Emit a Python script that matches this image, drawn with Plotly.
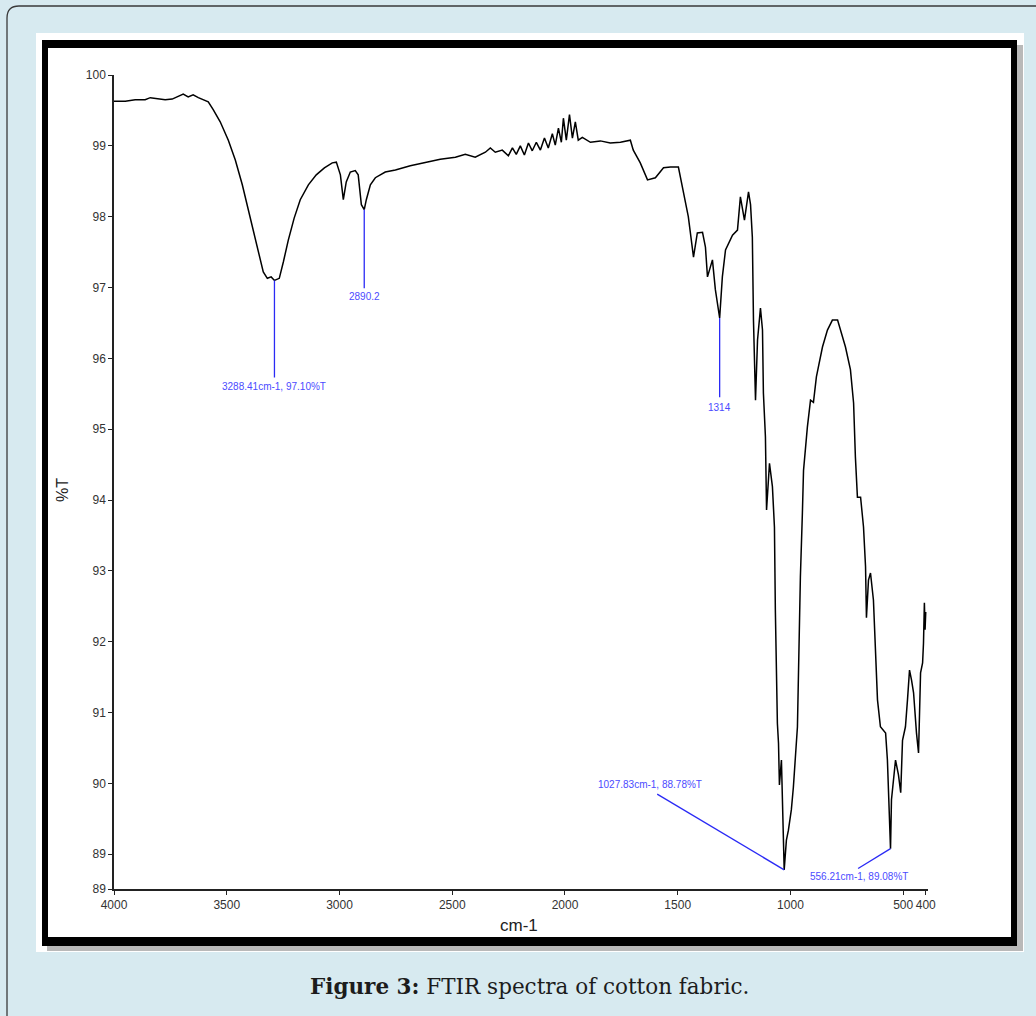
import plotly.graph_objects as go

# ---------------- data ----------------
wavenumber = [
    4000, 3950, 3906, 3862, 3839, 3804, 3773, 3742, 3715, 3693, 3671, 3649, 3626, 3604, 3582,
    3560, 3529, 3493, 3462, 3431, 3405, 3378, 3356, 3338, 3320, 3303, 3288.41, 3267, 3249, 3227,
    3201, 3174, 3138, 3103, 3067, 3032, 3014, 2996, 2983, 2970, 2952, 2930, 2917, 2903, 2890.2,
    2881, 2863, 2841, 2797, 2752, 2686, 2619, 2553, 2486, 2442, 2398, 2353, 2331, 2309, 2278,
    2251, 2233, 2216, 2198, 2180, 2162, 2145, 2127, 2109, 2091, 2074, 2056, 2043, 2029, 2016,
    2007, 1994, 1980, 1967, 1954, 1941, 1923, 1887, 1843, 1799, 1754, 1728, 1710, 1697, 1666,
    1634, 1599, 1563, 1532, 1497, 1479, 1453, 1430, 1413, 1390, 1377, 1368, 1346, 1333, 1314,
    1302, 1288, 1257, 1235, 1222, 1204, 1186, 1177, 1169, 1164, 1155, 1146, 1133, 1124, 1120,
    1111, 1106, 1098, 1093, 1080, 1071, 1067, 1058, 1053, 1049, 1040, 1035, 1027.83, 1018, 1009,
    996, 987, 969, 964, 956, 947, 942, 925, 911, 898, 885, 876, 858, 836, 814,
    791, 778, 756, 734, 720, 712, 703, 689, 676, 667, 663, 654, 645, 632, 623,
    614, 601, 578, 570, 556.21, 552, 543, 534, 521, 511, 503, 490, 481, 472, 463,
    454, 441, 432, 423, 414, 410, 406, 403, 400,
]
transmittance = [
    99.63, 99.63, 99.65, 99.65, 99.68, 99.66, 99.65, 99.66, 99.70, 99.73, 99.69, 99.72, 99.68, 99.65, 99.62,
    99.51, 99.34, 99.08, 98.80, 98.45, 98.10, 97.74, 97.42, 97.22, 97.13, 97.15, 97.10, 97.13, 97.36, 97.67,
    97.98, 98.24, 98.45, 98.59, 98.69, 98.76, 98.77, 98.59, 98.24, 98.49, 98.63, 98.65, 98.59, 98.17, 98.10,
    98.24, 98.45, 98.55, 98.63, 98.66, 98.72, 98.77, 98.81, 98.84, 98.88, 98.84, 98.91, 98.97, 98.91, 98.94,
    98.86, 98.97, 98.88, 99.00, 98.87, 99.04, 98.93, 99.05, 98.94, 99.11, 98.97, 99.17, 99.01, 99.25, 99.05,
    99.39, 99.08, 99.44, 99.11, 99.34, 99.08, 99.12, 99.05, 99.07, 99.04, 99.05, 99.07, 99.08, 98.94, 98.76,
    98.52, 98.55, 98.69, 98.70, 98.70, 98.42, 98.00, 97.43, 97.77, 97.78, 97.57, 97.15, 97.39, 96.97, 96.57,
    97.15, 97.53, 97.74, 97.81, 98.28, 97.95, 98.35, 98.17, 97.71, 96.54, 95.41, 96.26, 96.71, 96.40, 95.51,
    94.89, 93.86, 94.35, 94.52, 94.19, 93.62, 92.45, 90.85, 90.57, 89.98, 90.33, 89.77, 88.78, 89.20, 89.34,
    89.63, 89.95, 90.80, 91.70, 92.91, 93.82, 94.42, 95.03, 95.41, 95.38, 95.74, 95.88, 96.16, 96.40, 96.54,
    96.54, 96.40, 96.16, 95.84, 95.37, 94.61, 94.04, 94.04, 93.62, 93.06, 92.34, 92.87, 92.97, 92.59, 91.98,
    91.18, 90.80, 90.71, 90.33, 89.08, 89.77, 90.09, 90.33, 90.12, 89.87, 90.61, 90.80, 91.18, 91.60, 91.46,
    91.28, 90.71, 90.43, 91.56, 91.70, 91.98, 92.55, 92.17, 92.42,
]

x_tick_vals = [4000, 3500, 3000, 2500, 2000, 1500, 1000, 500, 400]
x_tick_text = ["4000", "3500", "3000", "2500", "2000", "1500", "1000", "500", "400"]
y_tick_vals = [88.51, 89, 90, 91, 92, 93, 94, 95, 96, 97, 98, 99, 100]
y_tick_text = ["89", "89", "90", "91", "92", "93", "94", "95", "96", "97", "98", "99", "100"]

# peak markers: peak position, peak value, label text
peak_x = [3288.41, 2890.2, 1314, 1027.83, 556.21]
peak_y = [97.10, 98.10, 96.57, 88.78, 89.08]
peak_text = ["3288.41cm-1, 97.10%T", "2890.2", "1314", "1027.83cm-1, 88.78%T", "556.21cm-1, 89.08%T"]
# where the leader line ends and where the label sits (layout, data units)
lead_end_x = [3288.41, 2890.2, 1314, 1591, 700]
lead_end_y = [95.73, 96.99, 95.45, 89.85, 88.80]
label_x = [3288.41, 2890.2, 1314, 1621, 698]
label_y = [95.60, 96.88, 95.31, 89.99, 88.69]

# ---------------- layout geometry ----------------
W, H = 1036, 1016
L, R, T, B = 114, 108, 75, 127
PW, PH = W - L - R, H - T - B


def px(x):
    return (x - L) / PW


def py(y):
    return (H - B - y) / PH


fig = go.Figure()
fig.add_trace(go.Scatter(
    x=wavenumber, y=transmittance, mode="lines",
    line=dict(color="#000000", width=1.5), showlegend=False, hoverinfo="x+y",
))

shapes = []
# outer rounded outline of the figure box
r = 12
path = (f"M {px(7)},{py(H + 20)} L {px(7)},{py(6 + r)} "
        f"Q {px(7)},{py(6)} {px(7 + r)},{py(6)} L {px(W + 20)},{py(6)}")
shapes.append(dict(type="path", xref="paper", yref="paper", path=path,
                   line=dict(color="#3a3a3a", width=1.3), layer="below"))
# white panel
shapes.append(dict(type="rect", xref="paper", yref="paper", x0=px(36), x1=px(1024), y0=py(952), y1=py(33),
                   fillcolor="white", line=dict(width=0), layer="below"))
# shadow
shapes.append(dict(type="rect", xref="paper", yref="paper", x0=px(47), x1=px(1023), y0=py(951), y1=py(45),
                   fillcolor="#b9b9b9", line=dict(width=0), layer="below"))
# black frame
shapes.append(dict(type="rect", xref="paper", yref="paper", x0=px(42), x1=px(1017), y0=py(946), y1=py(40),
                   fillcolor="black", line=dict(width=0), layer="below"))
shapes.append(dict(type="rect", xref="paper", yref="paper", x0=px(48), x1=px(1011), y0=py(937), y1=py(48),
                   fillcolor="white", line=dict(width=0), layer="below"))

# leader lines for peaks
for xs, ys, xe, ye in zip(peak_x, peak_y, lead_end_x, lead_end_y):
    shapes.append(dict(type="line", xref="x", yref="y", x0=xs, y0=ys, x1=xe, y1=ye,
                       line=dict(color="#2a2af5", width=1.3)))

annotations = []
for t, xl, yl in zip(peak_text, label_x, label_y):
    annotations.append(dict(x=xl, y=yl, xref="x", yref="y", text=t, showarrow=False,
                            font=dict(family="Liberation Sans, Arial", size=10, color="#4b4bff"),
                            xanchor="center", yanchor="middle"))

# axis titles
annotations.append(dict(x=px(519), y=py(925), xref="paper", yref="paper", text="cm-1", showarrow=False,
                        font=dict(family="Liberation Sans, Arial", size=17, color="#222"),
                        xanchor="center", yanchor="middle"))
annotations.append(dict(x=px(62), y=py(490), xref="paper", yref="paper", text="%T", showarrow=False,
                        textangle=-90,
                        font=dict(family="Liberation Sans, Arial", size=16, color="#222"),
                        xanchor="center", yanchor="middle"))
# caption
annotations.append(dict(x=px(529), y=py(986), xref="paper", yref="paper",
                        text="<b>Figure 3:</b> FTIR spectra of cotton fabric.", showarrow=False,
                        font=dict(family="DejaVu Serif, Noto Serif, serif", size=21.5, color="#1c1c1c"),
                        xanchor="center", yanchor="middle"))

fig.update_layout(
    width=W, height=H,
    margin=dict(l=L, r=R, t=T, b=B, autoexpand=False),
    paper_bgcolor="#d7eaf0",
    plot_bgcolor="rgba(0,0,0,0)",
    shapes=shapes,
    annotations=annotations,
    showlegend=False,
    xaxis=dict(
        range=[4000, 390], tickmode="array", tickvals=x_tick_vals, ticktext=x_tick_text,
        showgrid=False, zeroline=False, showline=True, linecolor="#222", linewidth=1.5,
        ticks="outside", ticklen=4, tickcolor="#222", tickwidth=1,
        tickfont=dict(family="Liberation Sans, Arial", size=12, color="#333"),
    ),
    yaxis=dict(
        range=[88.51, 100], tickmode="array", tickvals=y_tick_vals, ticktext=y_tick_text,
        showgrid=False, zeroline=False, showline=True, linecolor="#222", linewidth=1.5,
        ticks="outside", ticklen=4, tickcolor="#222", tickwidth=1,
        tickfont=dict(family="Liberation Sans, Arial", size=12, color="#333"),
    ),
)

fig.write_html("out.html", config={"displayModeBar": False},
               post_script="document.body.style.margin='0';")
